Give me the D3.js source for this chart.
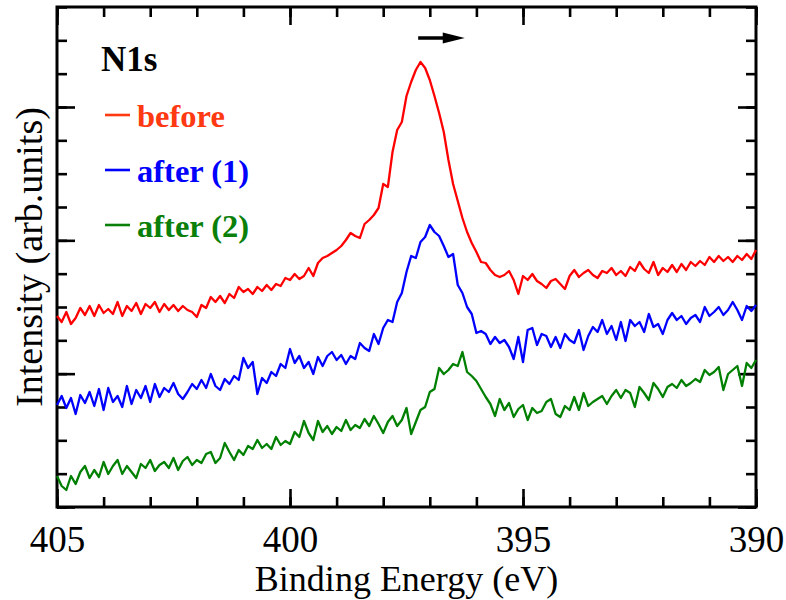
<!DOCTYPE html>
<html>
<head>
<meta charset="utf-8">
<script src="https://cdn.jsdelivr.net/npm/d3@7"></script>
<style>
  html, body { margin: 0; padding: 0; background: #fff; }
  svg { display: block; }
  text { font-family: "Liberation Serif", "Times New Roman", serif; }
</style>
</head>
<body>
<svg id="chart" width="786" height="600"></svg>
<script>
// N1s XPS spectra, binding energy sampled every 0.1 eV from 405 to 390 eV
const energy = d3.range(151).map(i => +(405 - i * 0.1).toFixed(1));

// Intensities (counts, arbitrary offset per spectrum)
const before = [
  573,555,585,549,567,597,576,603,573,606,582,594,579,615,573,603,588,612,579,609,
  597,615,585,609,591,606,588,603,591,585,570,606,597,630,615,633,612,639,627,660,
  645,654,639,660,648,666,651,669,663,687,681,699,684,693,717,693,732,747,753,762,
  771,783,801,822,813,807,849,861,876,897,969,960,1065,1131,1155,1233,1275,1311,1335,1317,
  1281,1233,1182,1125,1041,969,918,867,825,792,765,735,732,711,696,690,696,708,681,639,
  693,681,699,678,669,657,678,684,669,654,693,711,690,702,711,696,687,708,702,717,
  696,708,693,720,708,735,714,702,735,696,717,705,726,705,729,711,735,723,738,726,
  750,735,753,738,750,735,753,741,759,744,771
];

const after1 = [
  306,333,297,327,279,336,312,345,303,354,291,357,315,333,300,363,309,351,327,363,
  315,369,330,357,345,372,339,324,345,369,354,381,357,399,363,351,384,369,393,381,
  447,417,435,339,387,372,405,393,429,417,474,432,453,417,435,399,450,423,453,465,
  441,456,429,453,444,492,477,468,519,489,537,561,555,615,642,705,753,747,795,810,
  846,825,813,783,750,759,666,642,600,579,522,528,519,489,510,492,501,480,444,510,
  435,531,537,486,519,513,480,510,477,519,501,492,531,471,513,540,525,561,519,543,
  501,555,498,561,543,555,525,579,540,549,519,561,582,561,573,549,567,576,555,600,
  573,585,600,576,591,615,591,561,603,588,606
];

const after2 = [
  93,63,51,93,69,105,123,87,111,90,135,99,123,141,99,123,105,87,129,117,
  141,108,126,135,117,147,111,138,150,126,141,132,159,165,132,147,192,165,141,171,
  156,183,174,201,177,189,174,210,186,198,189,225,210,258,222,201,258,225,243,219,
  240,228,261,231,246,237,264,243,273,249,222,255,273,243,261,297,219,255,291,300,
  345,354,417,399,411,429,423,465,405,393,378,354,330,309,273,324,291,312,270,294,
  306,261,297,282,288,315,324,279,270,303,291,330,291,342,303,315,324,333,309,333,
  351,327,351,342,300,360,342,321,372,354,330,360,369,357,381,363,372,384,375,411,
  396,405,420,351,399,411,423,363,432,417,441
];

const series = [
  { name: "before",    values: before, color: "#ff0000", legendColor: "#ff3a12" },
  { name: "after (1)", values: after1, color: "#0000ff", legendColor: "#0000ff" },
  { name: "after (2)", values: after2, color: "#008000", legendColor: "#0a800a" }
];

const xMajorTicks = [405, 400, 395, 390];
const xMinorTicks = d3.range(390, 406, 1);
const yMajorTicks = [0, 400, 800, 1200];
const yMinorTicks = d3.range(0, 1501, 100);

// Peak-shift arrow (binding energy from → to, intensity level)
const arrowFrom = 397.25, arrowTo = 396.25, arrowLevel = 1407;

const margin = { left: 57, right: 30, top: 7, bottom: 93 };
const W = 786, H = 600;
const svg = d3.select("#chart");

const x = d3.scaleLinear().domain([405, 390]).range([margin.left, W - margin.right]);
const y = d3.scaleLinear().domain([0, 1500]).range([H - margin.bottom, margin.top]);

const x0 = x.range()[0], x1 = x.range()[1];
const y0 = y.range()[0], y1 = y.range()[1];

// Tick marks on all four sides, pointing inward
function tickAxis(gen, scale, values, size, transform) {
  const g = svg.append("g")
    .attr("transform", transform)
    .call(gen(scale).tickValues(values).tickSize(size).tickFormat(""));
  g.select(".domain").remove();
  g.selectAll("line").attr("stroke", "#000").attr("stroke-width", 2.6);
  return g;
}
tickAxis(d3.axisBottom, x, xMinorTicks, -10, `translate(0,${y0})`);
tickAxis(d3.axisBottom, x, xMajorTicks, -18, `translate(0,${y0})`);
tickAxis(d3.axisTop, x, xMinorTicks, -10, `translate(0,${y1})`);
tickAxis(d3.axisTop, x, xMajorTicks, -18, `translate(0,${y1})`);
tickAxis(d3.axisLeft, y, yMinorTicks, -10, `translate(${x0},0)`);
tickAxis(d3.axisLeft, y, yMajorTicks, -18, `translate(${x0},0)`);
tickAxis(d3.axisRight, y, yMinorTicks, -10, `translate(${x1},0)`);
tickAxis(d3.axisRight, y, yMajorTicks, -18, `translate(${x1},0)`);

// Tick labels on the energy axis
const labels = svg.append("g")
  .attr("transform", `translate(0,${y0})`)
  .call(d3.axisBottom(x).tickValues(xMajorTicks).tickSize(0).tickPadding(19).tickFormat(d3.format("d")));
labels.select(".domain").remove();
labels.selectAll("text")
  .attr("font-size", 37)
  .attr("fill", "#000");

// Frame
svg.append("rect")
  .attr("x", x0).attr("y", y1)
  .attr("width", x1 - x0).attr("height", y0 - y1)
  .attr("fill", "none").attr("stroke", "#000").attr("stroke-width", 3);

// Spectra
const line = d3.line()
  .x((d, i) => x(energy[i]))
  .y(d => y(d));

svg.append("g").selectAll("path")
  .data(series)
  .join("path")
  .attr("d", s => line(s.values))
  .attr("fill", "none")
  .attr("stroke", s => s.color)
  .attr("stroke-width", 2.3)
  .attr("stroke-linejoin", "round");

// Axis titles
svg.append("text")
  .attr("x", (x0 + x1) / 2)
  .attr("y", 591)
  .attr("text-anchor", "middle")
  .attr("font-size", 36)
  .text("Binding Energy (eV)");

svg.append("text")
  .attr("transform", `translate(42,${(y0 + y1) / 2})rotate(-90)`)
  .attr("text-anchor", "middle")
  .attr("font-size", 38)
  .text("Intensity (arb.units)");

// Legend
svg.append("text")
  .attr("x", 101).attr("y", 71)
  .attr("font-size", 35).attr("font-weight", "bold")
  .text("N1s");

const legend = svg.append("g").selectAll("g")
  .data(series)
  .join("g")
  .attr("transform", (d, i) => `translate(105,${115 + i * 55})`);
legend.append("line")
  .attr("x1", 0).attr("x2", 25)
  .attr("stroke", d => d.legendColor).attr("stroke-width", 2.6);
legend.append("text")
  .attr("x", 32).attr("y", 12)
  .attr("font-size", 32.5).attr("font-weight", "bold")
  .attr("fill", d => d.legendColor)
  .text(d => d.name);

// Peak-shift arrow
const ax0 = x(arrowFrom), ax1 = x(arrowTo), ay = y(arrowLevel);
svg.append("line")
  .attr("x1", ax0).attr("x2", ax1 - 18)
  .attr("y1", ay).attr("y2", ay)
  .attr("stroke", "#000").attr("stroke-width", 3.5);
svg.append("path")
  .attr("d", `M${ax1},${ay} L${ax1 - 22},${ay - 5.5} L${ax1 - 22},${ay + 5.5} Z`)
  .attr("fill", "#000");
</script>
</body>
</html>
